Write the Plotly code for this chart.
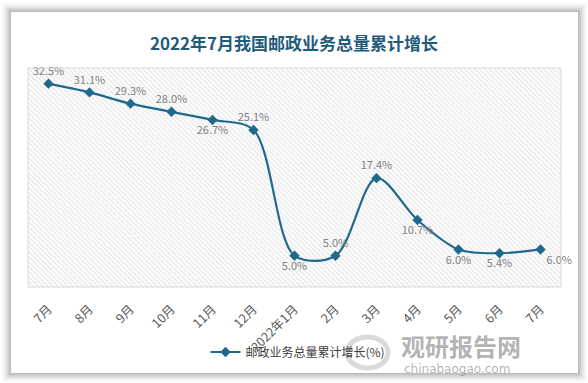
import plotly.graph_objects as go

categories = ["7月", "8月", "9月", "10月", "11月", "12月", "2022年1月", "2月", "3月", "4月", "5月", "6月", "7月"]
growth = [32.5, 31.1, 29.3, 28.0, 26.7, 25.1, 5.0, 5.0, 17.4, 10.7, 6.0, 5.4, 6.0]
label_pos = ["top center", "top center", "top center", "top center", "bottom center", "top center",
             "bottom center", "top center", "top center", "bottom center", "bottom center",
             "bottom center", "bottom right"]
series_name = "邮政业务总量累计增长(%)"
title_text = "2022年7月我国邮政业务总量累计增长"

W, H = 588, 383
ML, MR, MT, MB = 28, 27, 68, 96
PW, PH = W - ML - MR, H - MT - MB

def px(x):
    return (x - ML) / PW

def py(y):
    return (H - MB - y) / PH

LINE = "#1f6a8c"
FONT = "Noto Sans CJK SC"
xs = list(range(len(categories)))

fig = go.Figure()

# hatched plot background
fig.add_trace(go.Scatter(
    x=[-0.5, len(categories) - 0.5, len(categories) - 0.5, -0.5, -0.5],
    y=[0, 0, 35, 35, 0], mode="lines", fill="toself",
    fillcolor="rgba(255,255,255,0)",
    fillpattern=dict(shape="\\", fgcolor="#cbcbcb", bgcolor="white", size=3.5, solidity=0.35),
    line=dict(width=0), hoverinfo="skip", showlegend=False))

fig.add_trace(go.Scatter(
    x=xs, y=growth, mode="lines+markers+text", name=series_name,
    line=dict(color=LINE, width=2.2, shape="spline", smoothing=0.9),
    marker=dict(symbol="diamond", size=8, color=LINE),
    text=[f"{v:.1f}%" for v in growth], textposition=label_pos,
    textfont=dict(family=FONT, size=11, color="#7f7f7f"),
    cliponaxis=False))

shapes = []
# card shadow
for i, op in enumerate([0.05, 0.045, 0.04, 0.035, 0.03, 0.025, 0.02, 0.015, 0.01, 0.008]):
    d = i + 1
    shapes.append(dict(type="rect", xref="paper", yref="paper", layer="below",
                       x0=px(11 - d), x1=px(578 + d), y0=py(373 + d), y1=py(12 - d),
                       line=dict(width=0), fillcolor=f"rgba(0,0,0,{op})"))
shapes.append(dict(type="rect", xref="paper", yref="paper", layer="below",
                   x0=px(11), x1=px(578), y0=py(373), y1=py(12),
                   line=dict(width=0), fillcolor="white"))
# plot border
shapes.append(dict(type="rect", xref="paper", yref="paper", layer="above",
                   x0=0, x1=1, y0=0, y1=1, line=dict(width=1, color="#d9d9d9")))
# watermark ring
shapes.append(dict(type="circle", xref="paper", yref="paper", layer="above",
                   x0=px(347), x1=px(388), y0=py(368), y1=py(337),
                   line=dict(width=5, color="rgba(150,150,150,0.35)")))

annotations = [
    dict(text="<b>观研报告网</b>", xref="paper", yref="paper", x=px(461), y=py(345),
         showarrow=False, font=dict(family=FONT, size=24, color="rgba(130,130,130,0.6)"),
         xanchor="center", yanchor="middle"),
    dict(text="chinabaogao.com", xref="paper", yref="paper", x=px(457), y=py(369),
         showarrow=False, font=dict(family="DejaVu Sans", size=12, color="rgba(130,130,130,0.6)"),
         xanchor="center", yanchor="middle"),
]

fig.update_layout(
    width=W, height=H, margin=dict(l=ML, r=MR, t=MT, b=MB, autoexpand=False),
    paper_bgcolor="white", plot_bgcolor="white",
    title=dict(text=f"<b>{title_text}</b>", x=0.5, xanchor="center", y=1 - 44 / H, yanchor="middle",
               font=dict(family=FONT, size=17, color="#1f5b7a")),
    xaxis=dict(range=[-0.5, len(categories) - 0.5], tickvals=xs, ticktext=categories,
               tickangle=-45, showgrid=False, zeroline=False,
               ticks="outside", ticklen=9, tickcolor="rgba(0,0,0,0)", automargin=False,
               tickfont=dict(family=FONT, size=12.5, color="#595959"), fixedrange=True),
    yaxis=dict(range=[0, 35], visible=False, fixedrange=True, automargin=False),
    legend=dict(orientation="h", x=px(298), xanchor="center", y=py(352), yanchor="middle",
                font=dict(family=FONT, size=12, color="#404040"), bgcolor="rgba(0,0,0,0)"),
    shapes=shapes, annotations=annotations,
)

fig.write_html("out.html", config={"displayModeBar": False},
               post_script="document.body.style.margin='0';")
